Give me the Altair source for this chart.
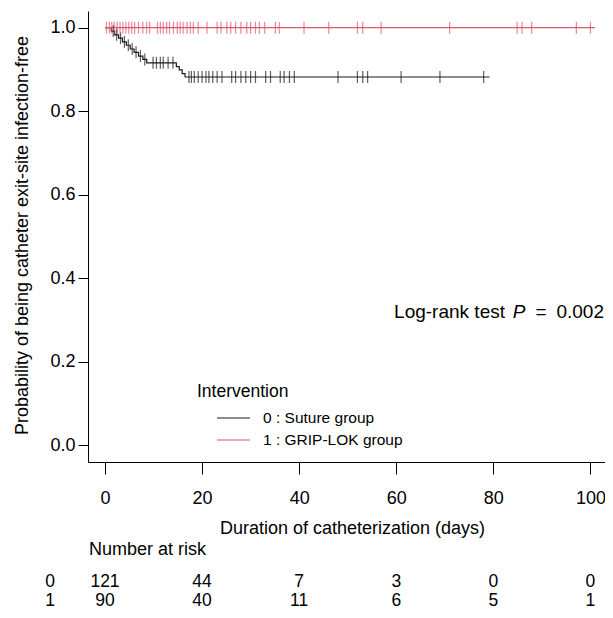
import altair as alt
import pandas as pd

# ---------------- data ----------------
groups = ["0", "1"]
group_labels = ["0 : Suture group", "1 : GRIP-LOK group"]
group_colors = ["#1a1a1a", "#DF536B"]

# Group 0 (Suture): times of the drops and survival right after each drop
g0_event_times = [1.3, 2.0, 2.8, 3.6, 4.4, 5.2, 6.0, 6.9, 7.8, 8.6, 14.7, 15.3, 15.9, 16.5]
g0_event_surv = [0.992, 0.983, 0.975, 0.966, 0.958, 0.949, 0.941, 0.932, 0.924, 0.916,
                 0.907, 0.899, 0.890, 0.882]
g0_last_time = 79.2
g0_censor_times = [1.7, 2.4, 3.2, 4.0, 4.8, 5.6, 6.4, 7.3, 8.2, 9.9, 10.6, 11.4, 12.0, 13.0,
                   14.0, 17.3, 17.8, 18.4, 19.2, 20.0, 20.8, 21.4, 22.2, 23.1, 24.1, 26.1,
                   26.9, 28.0, 29.0, 30.0, 31.0, 33.1, 34.1, 36.1, 36.9, 38.0, 39.0, 48.0,
                   52.0, 53.1, 54.1, 61.0, 69.0, 78.0]

# Group 1 (GRIP-LOK): no events
g1_last_time = 100.9
g1_censor_times = [0.3, 0.9, 1.4, 1.9, 2.5, 3.1, 3.7, 4.3, 4.9, 5.5, 6.1, 6.9, 7.8, 8.6, 9.2,
                   10.8, 11.4, 12.0, 12.7, 13.3, 14.1, 14.9, 15.5, 16.1, 16.9, 17.6, 18.2,
                   19.2, 21.0, 23.1, 23.9, 25.1, 25.9, 26.9, 28.0, 29.2, 30.0, 31.0, 31.8,
                   32.9, 35.1, 35.9, 41.0, 46.1, 52.0, 53.1, 56.9, 71.0, 84.9, 85.9, 87.9,
                   97.1, 100.0]

risk_times = [0, 20, 40, 60, 80, 100]
risk_g0 = [121, 44, 7, 3, 0, 0]
risk_g1 = [90, 40, 11, 6, 5, 1]

x_ticks = [0, 20, 40, 60, 80, 100]
y_ticks = [0.0, 0.2, 0.4, 0.6, 0.8, 1.0]

# ---------------- tables ----------------
def surv_at(times, survs, t):
    s = 1.0
    for ti, si in zip(times, survs):
        if ti <= t:
            s = si
    return s

curve_rows = [{"time": 0.0, "surv": 1.0, "group": "0"}]
for t, s in zip(g0_event_times, g0_event_surv):
    curve_rows.append({"time": t, "surv": s, "group": "0"})
curve_rows.append({"time": g0_last_time, "surv": g0_event_surv[-1], "group": "0"})
curve_rows.append({"time": 0.0, "surv": 1.0, "group": "1"})
curve_rows.append({"time": g1_last_time, "surv": 1.0, "group": "1"})
curves = pd.DataFrame(curve_rows)

cens_rows = [{"time": t, "surv": surv_at(g0_event_times, g0_event_surv, t), "group": "0"}
             for t in g0_censor_times]
cens_rows += [{"time": t, "surv": 1.0, "group": "1"} for t in g1_censor_times]
censors = pd.DataFrame(cens_rows)

risk0 = pd.DataFrame({"time": risk_times, "n": risk_g0})
risk1 = pd.DataFrame({"time": risk_times, "n": risk_g1})
one = pd.DataFrame({"k": [0]})

FONT = "Liberation Sans"
W, H = 517, 451

x_enc = alt.X(
    "time:Q",
    scale=alt.Scale(domain=[-3.5, 103], nice=False, zero=False),
    axis=alt.Axis(values=x_ticks, title="Duration of catheterization (days)", grid=False,
                  domainColor="black", tickColor="black", tickSize=12, labelFontSize=18,
                  labelPadding=15, labelColor="black", labelFlush=False, labelOverlap=False,
                  titleFontSize=18, titleFontWeight="normal", titleColor="black",
                  titleX=264, titleY=66, titleBaseline="middle", titleAlign="center"),
)
y_enc = alt.Y(
    "surv:Q",
    scale=alt.Scale(domain=[-0.04, 1.04], nice=False, zero=False),
    axis=alt.Axis(values=y_ticks, format=".1f", title="Probability of being catheter exit-site infection-free",
                  grid=False, domainColor="black", tickColor="black", tickSize=10,
                  labelFontSize=18, labelPadding=3, labelColor="black", labelFlush=False,
                  titleFontSize=18, titleFontWeight="normal", titleColor="black",
                  titleX=-66, titleY=224, titleBaseline="middle", titleAlign="center",
                  titleAngle=270),
)
color_enc = alt.Color("group:N", scale=alt.Scale(domain=groups, range=group_colors), legend=None)

lines = alt.Chart(curves).mark_line(interpolate="step-after", strokeWidth=1.2).encode(
    x=x_enc, y=y_enc, color=color_enc, detail="group:N"
)
ticks = alt.Chart(censors).mark_tick(orient="vertical", size=12, thickness=1.2).encode(
    x=x_enc, y=y_enc, color=color_enc
)

ROW0_Y, ROW1_Y = 571, 590
RISK_FS = 17.5
risk_text0 = alt.Chart(risk0).mark_text(fontSize=RISK_FS, color="black").encode(
    x=x_enc, y=alt.value(ROW0_Y), text="n:Q")
risk_text1 = alt.Chart(risk1).mark_text(fontSize=RISK_FS, color="black").encode(
    x=x_enc, y=alt.value(ROW1_Y), text="n:Q")
row_lab0 = alt.Chart(one).mark_text(fontSize=RISK_FS, color="black").encode(
    x=alt.value(-38), y=alt.value(ROW0_Y), text=alt.value(groups[0]))
row_lab1 = alt.Chart(one).mark_text(fontSize=RISK_FS, color="black").encode(
    x=alt.value(-38), y=alt.value(ROW1_Y), text=alt.value(groups[1]))
nar = alt.Chart(one).mark_text(fontSize=18, color="black", align="left").encode(
    x=alt.value(1), y=alt.value(539), text=alt.value("Number at risk"))

# legend drawn by hand
leg_title = alt.Chart(one).mark_text(fontSize=17.5, color="black", align="left").encode(
    x=alt.value(109), y=alt.value(381), text=alt.value("Intervention"))
leg_line0 = alt.Chart(one).mark_rule(color=group_colors[0], strokeWidth=1.2).encode(
    x=alt.value(129), x2=alt.value(162), y=alt.value(407))
leg_line1 = alt.Chart(one).mark_rule(color=group_colors[1], strokeWidth=1.2).encode(
    x=alt.value(129), x2=alt.value(162), y=alt.value(429))
leg_lab0 = alt.Chart(one).mark_text(fontSize=15.5, color="black", align="left").encode(
    x=alt.value(175), y=alt.value(407), text=alt.value(group_labels[0]))
leg_lab1 = alt.Chart(one).mark_text(fontSize=15.5, color="black", align="left").encode(
    x=alt.value(175), y=alt.value(429), text=alt.value(group_labels[1]))

# log-rank annotation
lr1 = alt.Chart(one).mark_text(fontSize=19, color="black", align="right").encode(
    x=alt.value(417), y=alt.value(301), text=alt.value("Log-rank test"))
lr2 = alt.Chart(one).mark_text(fontSize=19, color="black", align="center", fontStyle="italic").encode(
    x=alt.value(431), y=alt.value(301), text=alt.value("P"))
lr3 = alt.Chart(one).mark_text(fontSize=19, color="black", align="center").encode(
    x=alt.value(453), y=alt.value(301), text=alt.value("="))
lr4 = alt.Chart(one).mark_text(fontSize=19, color="black", align="right").encode(
    x=alt.value(516), y=alt.value(301), text=alt.value("0.002"))

chart = alt.layer(
    lines, ticks, risk_text0, risk_text1, row_lab0, row_lab1, nar,
    leg_title, leg_line0, leg_line1, leg_lab0, leg_lab1, lr1, lr2, lr3, lr4
).properties(
    width=W, height=H,
    autosize=alt.AutoSizeParams(type="none"),
    padding={"left": 80, "top": 3, "right": 0, "bottom": 148},
).configure(font=FONT).configure_view(stroke=None)

chart.save("out.html", embed_options={"renderer": "svg", "actions": False})
